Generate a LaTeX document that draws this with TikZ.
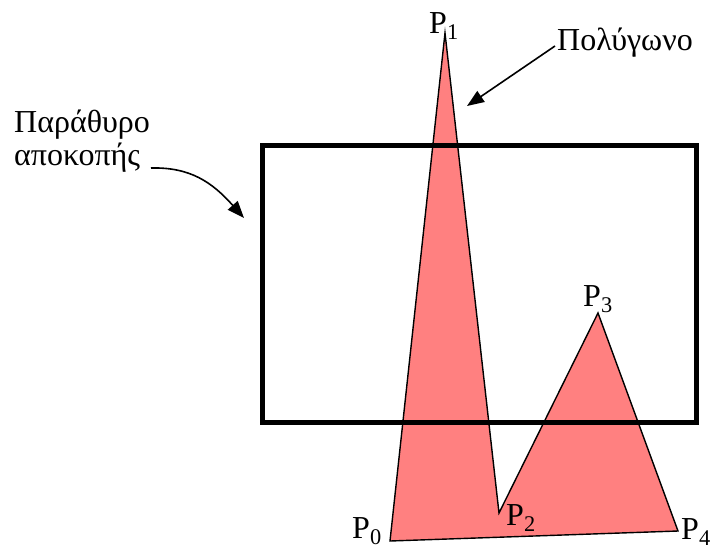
\documentclass[tikz,border=0pt]{standalone}
\usepackage{fontspec}
\setmainfont{Liberation Serif}
\usetikzlibrary{arrows.meta}
\definecolor{polyfill}{RGB}{255,128,128}
\begin{document}
\begin{tikzpicture}[
  x=1pt, y=-1pt,
  every node/.style={font=\fontsize{32}{33}\selectfont, inner sep=0pt},
  pointer/.style={line width=1.6pt, -{Triangle[length=17pt,width=13pt]}}
]
\useasboundingbox (0,0) rectangle (712,550);
% polygon vertices
\coordinate (p0) at (390,541);
\coordinate (p1) at (445,33);
\coordinate (p2) at (499,513);
\coordinate (p3) at (598,313);
\coordinate (p4) at (678,531);
\filldraw[fill=polyfill, line width=1.4pt, line join=miter]
  (p0) -- (p1) -- (p2) -- (p3) -- (p4) -- cycle;
% clipping window
\draw[line width=5pt] (262.5,145.5) rectangle (696.5,422.5);
% vertex labels
\node[anchor=base west] (l1) at (429,33) {P\textsubscript{1}};
\node[anchor=base west] (l0) at (352,538) {P\textsubscript{0}};
\node[anchor=base west] (l2) at (506,525) {P\textsubscript{2}};
\node[anchor=base west] (l3) at (583,306) {P\textsubscript{3}};
\node[anchor=base west] (l4) at (681,539) {P\textsubscript{4}};
% captions
\node[anchor=base west] (poly) at (557,50) {Πολύγωνο};
\node[anchor=base west, align=left] (win) at (14,165) {Παράθυρο\\αποκοπής};
\coordinate (polytip) at (467,106);
\coordinate (winstart) at (151,168);
\coordinate (wintip) at (244,218);
\draw[pointer] (poly.base west) ++(-2,-4) -- (polytip);
\draw[pointer] (winstart) .. controls (190,167) and (212,182) .. (wintip);
\end{tikzpicture}
\end{document}
